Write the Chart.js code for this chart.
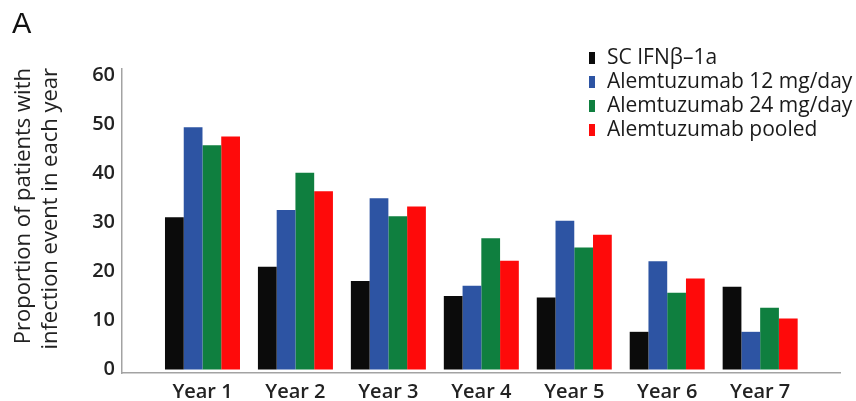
<!DOCTYPE html>
<html>
<head>
<meta charset="utf-8">
<script src="https://cdn.jsdelivr.net/npm/chart.js@4.4.1/dist/chart.umd.min.js"></script>
<style>
  html, body { margin: 0; padding: 0; background: #ffffff; }
  #wrap { width: 856px; height: 401px; }
</style>
</head>
<body>
<div id="wrap"><canvas id="chart" width="856" height="401"></canvas></div>
<script>
// Infection events per study year, by treatment arm (% of patients)
const categories = ['Year 1', 'Year 2', 'Year 3', 'Year 4', 'Year 5', 'Year 6', 'Year 7'];
const seriesNames = ['SC IFN\u03B2\u20131a', 'Alemtuzumab 12 mg/day', 'Alemtuzumab 24 mg/day', 'Alemtuzumab pooled'];
const scIfnb = [31.1, 21.0, 18.1, 15.0, 14.7, 7.7, 16.9];
const alem12 = [49.5, 32.6, 35.0, 17.1, 30.4, 22.1, 7.7];
const alem24 = [45.8, 40.2, 31.3, 26.8, 24.9, 15.7, 12.6];
const alemPooled = [47.6, 36.4, 33.3, 22.2, 27.5, 18.6, 10.4];
const yTicks = [0, 10, 20, 30, 40, 50, 60];
const yTitleLines = ['Proportion of patients with', 'infection event in each year'];
const panelLabel = 'A';

const seriesColors = ['#0b0b0b', '#2d54a3', '#0f7f3f', '#fe0a0a'];
const FONT = '"Open Sans", "DejaVu Sans", sans-serif';
const TEXT = '#222222';

const seriesValues = [scIfnb, alem12, alem24, alemPooled];
const datasets = seriesValues.map((vals, s) => ({
  label: seriesNames[s],
  data: vals.map((v, i) => ({ x: i + 1, y: v })),
  backgroundColor: seriesColors[s],
  borderWidth: 0,
  categoryPercentage: 0.807,
  barPercentage: 1.0
}));

// Panel letter, rotated axis title and the stacked legend on the right
const annotations = {
  id: 'annotations',
  afterDraw(chart) {
    const ctx = chart.ctx;
    ctx.save();
    ctx.fillStyle = '#111';
    ctx.font = '29px "Liberation Sans", Arial, sans-serif';
    ctx.textBaseline = 'alphabetic';
    ctx.textAlign = 'left';
    ctx.fillText(panelLabel, 12, 33);

    ctx.fillStyle = TEXT;
    ctx.font = '22px ' + FONT;
    ctx.rotate(-Math.PI / 2);
    ctx.textAlign = 'right';
    ctx.fillText(yTitleLines[0], -68, 30);
    ctx.fillText(yTitleLines[1], -68, 57);
    ctx.restore();

    ctx.save();
    ctx.font = '21px ' + FONT;
    ctx.textBaseline = 'middle';
    ctx.textAlign = 'left';
    chart.data.datasets.forEach((ds, i) => {
      const cy = 58 + i * 24;
      ctx.fillStyle = ds.backgroundColor;
      ctx.fillRect(589, cy - 6, 6, 12);
      ctx.fillStyle = '#1a1a1a';
      ctx.fillText(ds.label, 607, cy);
    });
    ctx.restore();
  }
};

new Chart(document.getElementById('chart'), {
  type: 'bar',
  data: { datasets },
  options: {
    responsive: false,
    devicePixelRatio: 1,
    animation: false,
    layout: { padding: { top: 69, right: 16, bottom: 0, left: 0 } },
    plugins: {
      legend: { display: false },
      tooltip: { enabled: false },
      title: { display: false }
    },
    scales: {
      x: {
        type: 'linear',
        offset: false,
        bounds: 'data',
        min: 0.134,
        max: 7.859,
        afterBuildTicks: s => { s.ticks = categories.map((c, i) => ({ value: i + 1 })); },
        afterFit: s => { s.height = 28; },
        grid: { display: false, drawTicks: false, offset: false },
        border: { display: true, color: '#a3a3a3', width: 1.5 },
        ticks: {
          autoSkip: false,
          maxRotation: 0,
          padding: 7,
          color: TEXT,
          font: { family: FONT, size: 20, weight: '600' },
          callback: v => categories[v - 1]
        }
      },
      y: {
        type: 'linear',
        bounds: 'data',
        min: -0.71,
        max: 61.37,
        afterBuildTicks: s => { s.ticks = yTicks.map(v => ({ value: v })); },
        afterFit: s => { s.width = 122; },
        grid: { display: false, drawTicks: false },
        border: { display: true, color: '#a3a3a3', width: 1.5 },
        ticks: {
          padding: 7,
          color: TEXT,
          font: { family: FONT, size: 20, weight: '600' }
        }
      }
    }
  },
  plugins: [annotations]
});
</script>
</body>
</html>
